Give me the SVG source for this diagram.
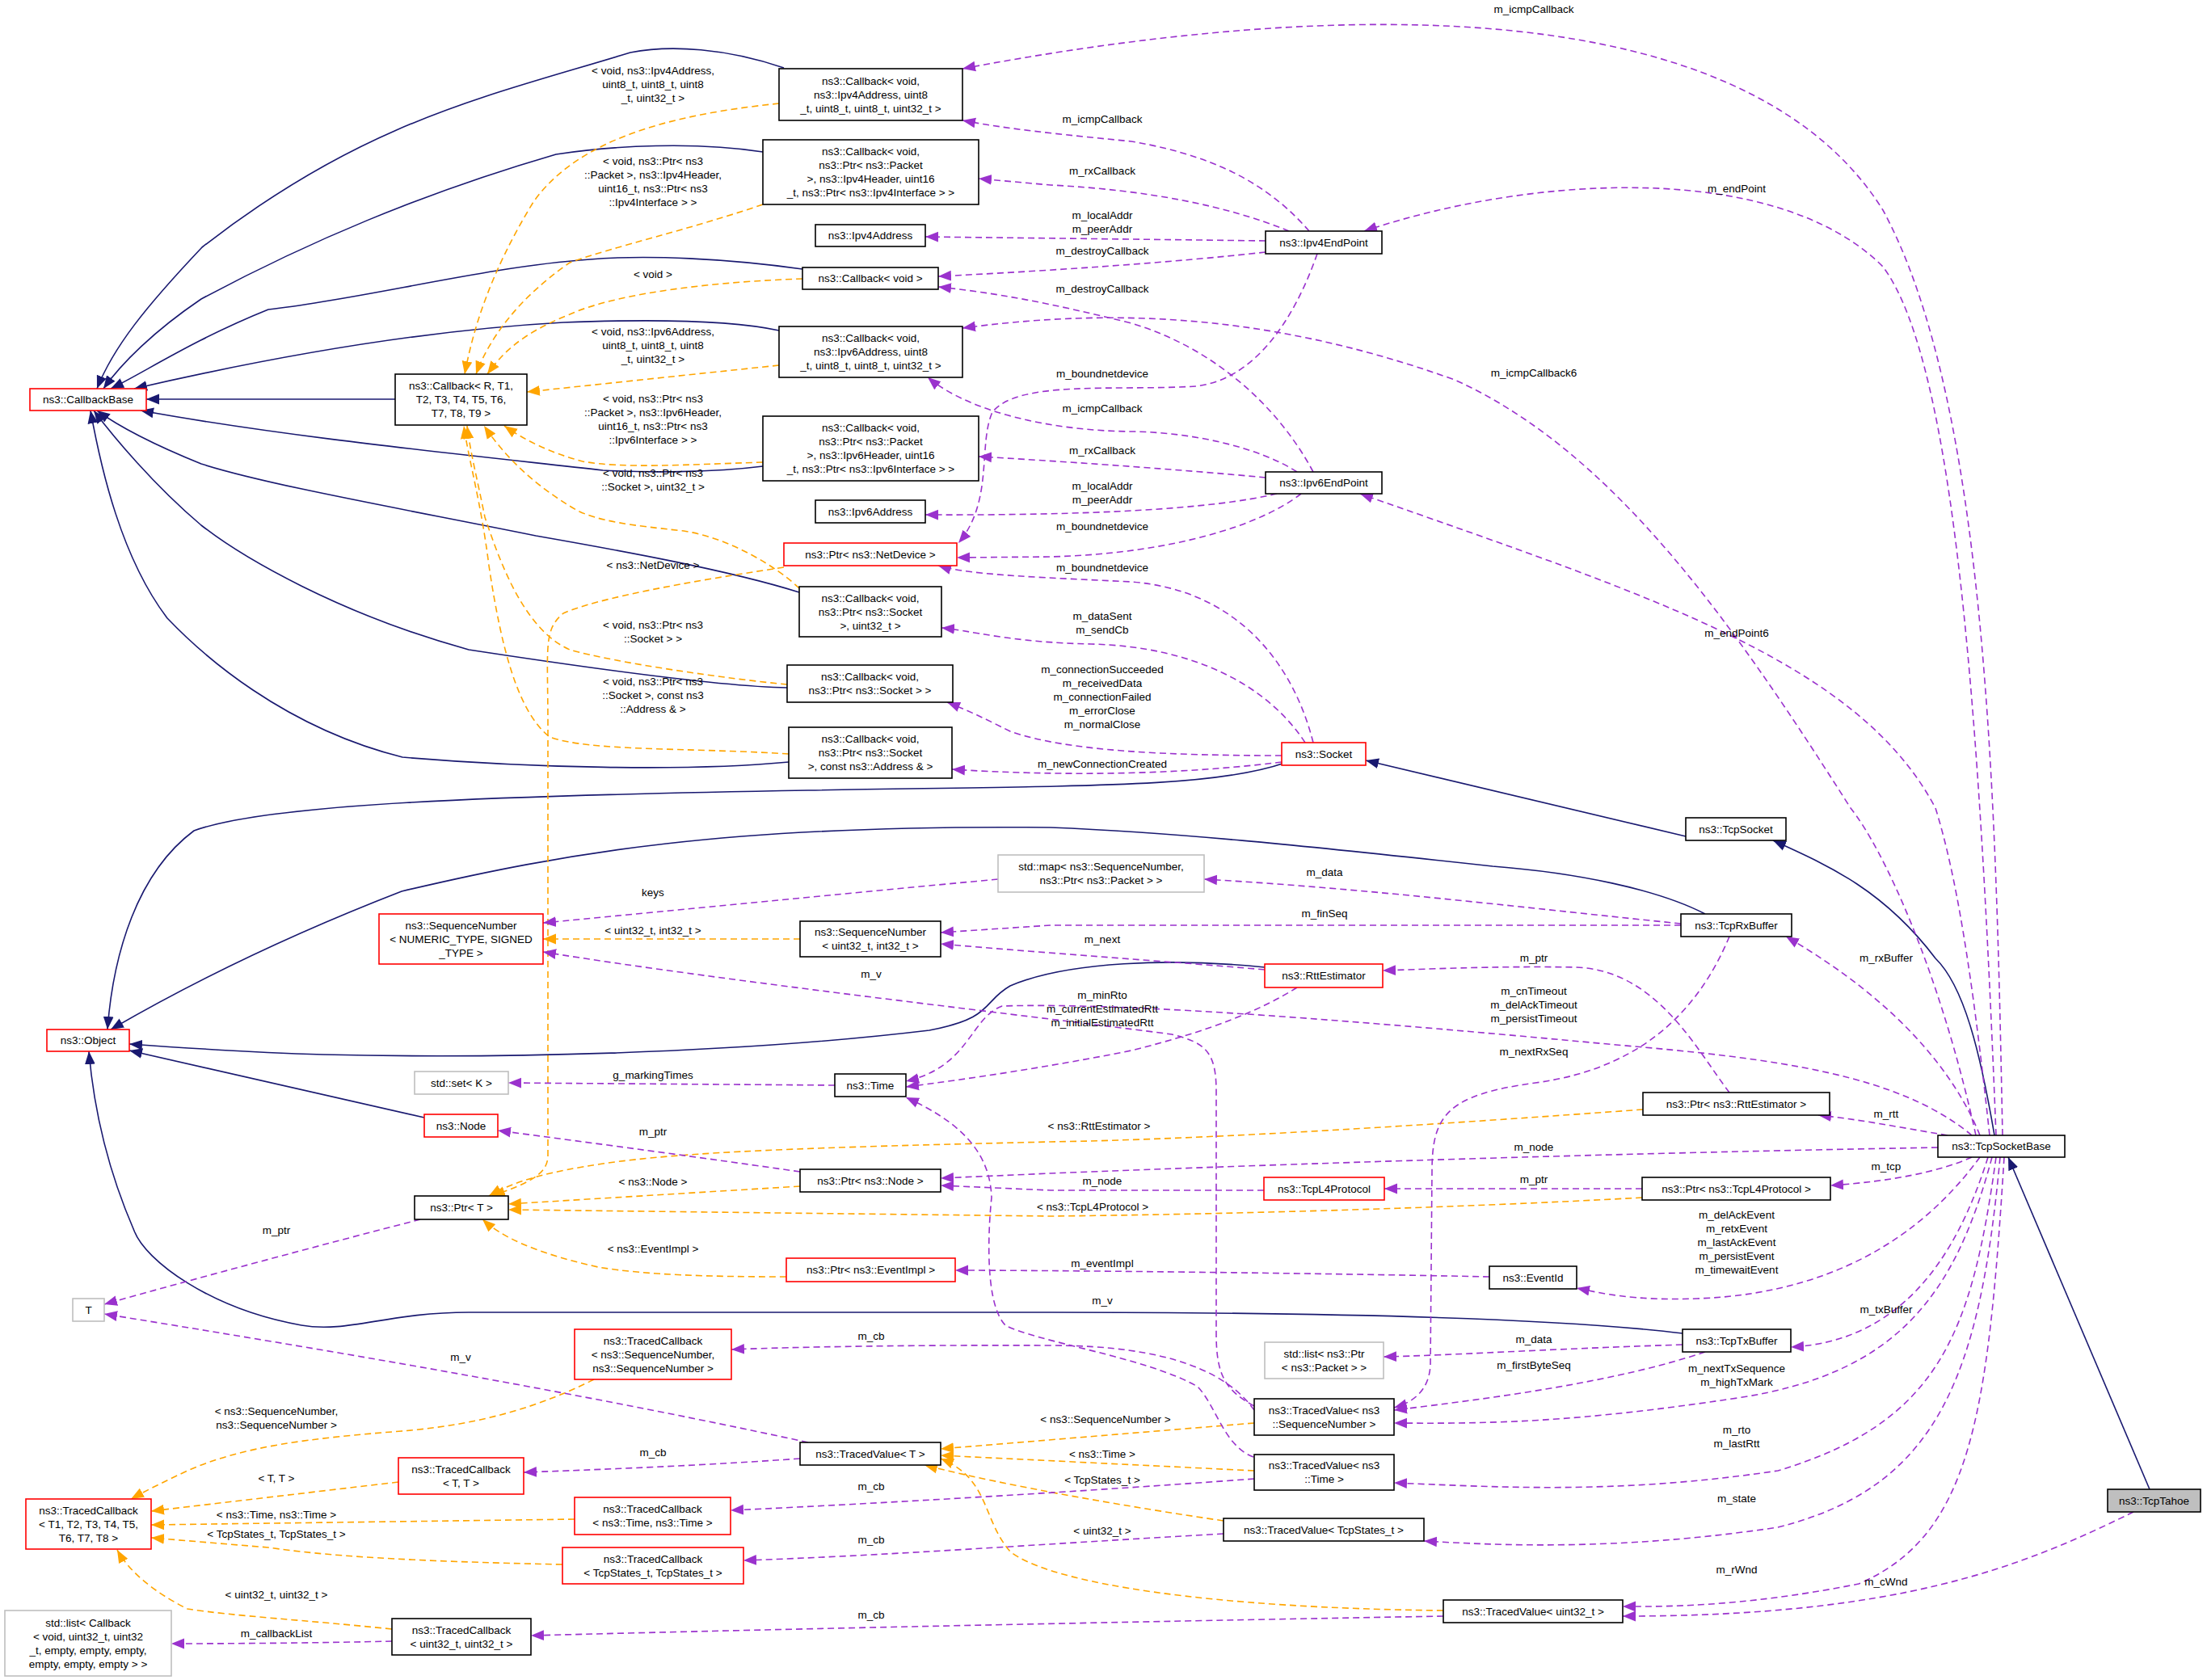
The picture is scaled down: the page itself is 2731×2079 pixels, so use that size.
<svg xmlns="http://www.w3.org/2000/svg" width="2731" height="2079" viewBox="0 0 2731 2079">
<style>
text{font-family:"Liberation Sans",Arial,sans-serif;font-size:13.5px;fill:#000;text-anchor:middle}
.n rect{fill:#fff;stroke:#000;stroke-width:1.6}
.n.r rect{stroke:#f00}
.n.g rect{stroke:#bfbfbf}
.n.t rect{fill:#bfbfbf;stroke:#000}
.e path{fill:none;stroke-width:1.6}
.i{stroke:#191970}
.p{stroke:#9a32cd;stroke-dasharray:8,5}
.o{stroke:#ffa500;stroke-dasharray:8,5}
</style>
<defs>
<marker id="ai" viewBox="0 0 10 10" refX="10" refY="5" markerWidth="16" markerHeight="16" markerUnits="userSpaceOnUse" orient="auto"><path d="M0,1L10,5L0,9z" fill="#191970"/></marker>
<marker id="ap" viewBox="0 0 10 10" refX="10" refY="5" markerWidth="16" markerHeight="16" markerUnits="userSpaceOnUse" orient="auto"><path d="M0,1L10,5L0,9z" fill="#9a32cd"/></marker>
<marker id="ao" viewBox="0 0 10 10" refX="10" refY="5" markerWidth="16" markerHeight="16" markerUnits="userSpaceOnUse" orient="auto"><path d="M0,1L10,5L0,9z" fill="#ffa500"/></marker>
</defs>
<rect width="2731" height="2079" fill="#fff"/>
<g id="edges" class="e">
<!-- inheritance -->
<path class="i" marker-end="url(#ai)" d="M970,84 C900,60 830,55 780,65 C600,120 450,150 250,306 C180,380 140,430 120,481"/>
<path class="i" marker-end="url(#ai)" d="M944,188 C860,175 760,180 688,191 C520,240 380,300 249,370 C190,410 150,450 128,481"/>
<path class="i" marker-end="url(#ai)" d="M993,333 C900,320 800,315 730,321 C600,330 450,370 332,383 C240,420 180,460 137,481"/>
<path class="i" marker-end="url(#ai)" d="M964,409 C900,395 800,395 697,399 C500,410 300,450 166,481"/>
<path class="i" marker-end="url(#ai)" d="M489,494 L181,494"/>
<path class="i" marker-end="url(#ai)" d="M944,577 C880,585 800,585 746,582 C550,560 350,540 174,508"/>
<path class="i" marker-end="url(#ai)" d="M989,733 C900,705 760,680 663,663 C500,630 330,600 249,574 C190,550 150,530 120,508"/>
<path class="i" marker-end="url(#ai)" d="M974,851 C900,850 750,830 580,804 C420,760 300,690 249,650 C190,600 140,540 116,508"/>
<path class="i" marker-end="url(#ai)" d="M976,943 C850,955 650,950 498,937 C350,900 250,810 207,765 C150,690 125,580 112,508"/>
<path class="i" marker-end="url(#ai)" d="M1590,944 C1500,975 1350,972 1000,978 C600,985 330,995 240,1028 C170,1080 140,1180 133,1274"/>
<path class="i" marker-end="url(#ai)" d="M2110,1131 C2050,1100 1950,1080 1847,1072 C1600,1045 1450,1030 1300,1024 C900,1020 700,1055 497,1103 C350,1160 230,1220 137,1274"/>
<path class="i" marker-end="url(#ai)" d="M1565,1197 C1450,1185 1320,1190 1250,1220 C1215,1240 1230,1260 1150,1275 C900,1305 600,1310 400,1305 C300,1302 230,1297 160,1292"/>
<path class="i" marker-end="url(#ai)" d="M525,1383 L160,1300"/>
<path class="i" marker-end="url(#ai)" d="M2082,1650 C2000,1640 1800,1624 1300,1624 L580,1624 C480,1624 430,1650 373,1640 C260,1620 180,1560 166,1523 C130,1440 115,1360 110,1301"/>
<path class="i" marker-end="url(#ai)" d="M2086,1035 L1690,941"/>
<path class="i" marker-end="url(#ai)" d="M2468,1405 C2450,1300 2430,1220 2395,1186 C2330,1100 2260,1070 2194,1040"/>
<path class="i" marker-end="url(#ai)" d="M2660,1843 L2485,1432"/>
<!-- template (orange) -->
<path class="o" marker-end="url(#ao)" d="M964,128 C850,140 720,165 660,250 C605,340 585,410 575,463"/>
<path class="o" marker-end="url(#ao)" d="M944,253 C850,285 760,305 705,325 C640,370 605,420 589,463"/>
<path class="o" marker-end="url(#ao)" d="M993,345 C900,348 770,360 705,389 C640,415 620,440 603,463"/>
<path class="o" marker-end="url(#ao)" d="M964,452 L652,485"/>
<path class="o" marker-end="url(#ao)" d="M944,572 C850,575 770,580 721,571 C680,560 650,545 624,527"/>
<path class="o" marker-end="url(#ao)" d="M989,728 C960,700 900,665 846,657 C780,650 740,645 713,631 C660,600 625,565 599,527"/>
<path class="o" marker-end="url(#ao)" d="M974,847 C900,840 760,820 705,804 C650,780 620,700 600,640 C590,590 582,560 578,527"/>
<path class="o" marker-end="url(#ao)" d="M976,933 C850,925 730,930 680,912 C640,880 620,800 605,700 C595,620 580,570 574,527"/>
<path class="o" marker-end="url(#ao)" d="M970,702 C850,720 740,740 697,759 C672,780 678,800 678,900 L678,1430 C678,1455 650,1465 609,1480"/>
<path class="o" marker-end="url(#ao)" d="M990,1162 L672,1162"/>
<path class="o" marker-end="url(#ao)" d="M2033,1373 C1800,1390 1500,1410 1300,1413 C1000,1420 850,1425 746,1440 C680,1450 640,1460 605,1480"/>
<path class="o" marker-end="url(#ao)" d="M990,1468 L629,1490"/>
<path class="o" marker-end="url(#ao)" d="M2032,1482 C1800,1495 1500,1503 1300,1505 L629,1497"/>
<path class="o" marker-end="url(#ao)" d="M973,1580 C880,1580 800,1578 740,1568 C660,1550 620,1530 597,1509"/>
<path class="o" marker-end="url(#ao)" d="M735,1707 C650,1750 570,1765 497,1771 C380,1780 300,1790 232,1820 C200,1835 180,1845 162,1855"/>
<path class="o" marker-end="url(#ao)" d="M493,1834 L187,1870"/>
<path class="o" marker-end="url(#ao)" d="M711,1880 L187,1887"/>
<path class="o" marker-end="url(#ao)" d="M696,1936 C500,1932 400,1925 332,1915 L187,1903"/>
<path class="o" marker-end="url(#ao)" d="M485,2016 C380,2005 290,2000 232,1991 C190,1970 160,1945 145,1918"/>
<path class="o" marker-end="url(#ao)" d="M1552,1761 L1164,1793"/>
<path class="o" marker-end="url(#ao)" d="M1552,1820 L1164,1801"/>
<path class="o" marker-end="url(#ao)" d="M1514,1882 C1400,1865 1250,1840 1144,1813"/>
<path class="o" marker-end="url(#ao)" d="M1786,1993 C1500,1990 1300,1960 1250,1920 C1215,1880 1225,1830 1164,1805"/>
<!-- members (purple) -->
<path class="p" marker-end="url(#ap)" d="M2478,1405 C2470,1000 2460,500 2330,260 C2180,20 1750,-20 1191,85"/>
<path class="p" marker-end="url(#ap)" d="M2470,1405 C2450,900 2420,450 2330,330 C2200,200 1900,215 1688,286"/>
<path class="p" marker-end="url(#ap)" d="M2445,1405 C2400,1200 2330,1050 2290,1000 C2150,780 2000,560 1800,470 C1550,380 1350,385 1191,406"/>
<path class="p" marker-end="url(#ap)" d="M2462,1405 C2440,1200 2420,1080 2395,1000 C2300,820 2050,740 1683,611"/>
<path class="p" marker-end="url(#ap)" d="M1620,286 C1580,240 1520,195 1400,175 C1300,165 1250,160 1191,149"/>
<path class="p" marker-end="url(#ap)" d="M1595,286 C1520,255 1420,235 1300,229 L1211,221"/>
<path class="p" marker-end="url(#ap)" d="M1566,298 L1145,293"/>
<path class="p" marker-end="url(#ap)" d="M1566,312 C1450,325 1300,335 1161,342"/>
<path class="p" marker-end="url(#ap)" d="M1625,584 C1580,500 1500,430 1400,400 C1300,375 1230,362 1161,355"/>
<path class="p" marker-end="url(#ap)" d="M1630,314 C1600,400 1550,470 1480,478 C1380,484 1260,470 1228,510 C1210,550 1230,620 1186,672"/>
<path class="p" marker-end="url(#ap)" d="M1605,584 C1560,555 1480,535 1400,534 C1300,533 1200,510 1148,467"/>
<path class="p" marker-end="url(#ap)" d="M1566,591 C1450,580 1300,570 1211,565"/>
<path class="p" marker-end="url(#ap)" d="M1580,611 C1500,630 1350,638 1145,637"/>
<path class="p" marker-end="url(#ap)" d="M1610,611 C1560,650 1450,685 1300,689 L1184,690"/>
<path class="p" marker-end="url(#ap)" d="M1625,919 C1600,820 1530,730 1400,720 C1300,715 1200,712 1161,700"/>
<path class="p" marker-end="url(#ap)" d="M1615,919 C1570,850 1480,800 1350,797 C1250,795 1200,780 1165,777"/>
<path class="p" marker-end="url(#ap)" d="M1586,935 C1450,935 1320,930 1250,905 C1220,890 1200,880 1172,869"/>
<path class="p" marker-end="url(#ap)" d="M1586,943 C1450,960 1300,960 1178,952"/>
<path class="p" marker-end="url(#ap)" d="M2080,1143 C1900,1125 1700,1100 1490,1088"/>
<path class="p" marker-end="url(#ap)" d="M1235,1088 C1000,1110 800,1130 672,1142"/>
<path class="p" marker-end="url(#ap)" d="M2080,1145 L1300,1145 L1164,1154"/>
<path class="p" marker-end="url(#ap)" d="M1565,1200 C1450,1190 1300,1180 1164,1168"/>
<path class="p" marker-end="url(#ap)" d="M1552,1740 C1515,1720 1505,1700 1505,1650 L1505,1350 C1505,1300 1490,1290 1450,1280 C1300,1260 900,1215 672,1178"/>
<path class="p" marker-end="url(#ap)" d="M1605,1222 C1560,1250 1500,1275 1400,1300 C1300,1320 1200,1335 1121,1345"/>
<path class="p" marker-end="url(#ap)" d="M2440,1405 C2350,1330 2200,1310 2000,1293 C1700,1265 1400,1240 1240,1245 C1200,1260 1200,1320 1121,1338"/>
<path class="p" marker-end="url(#ap)" d="M1033,1343 L629,1340"/>
<path class="p" marker-end="url(#ap)" d="M990,1450 C850,1430 700,1410 616,1399"/>
<path class="p" marker-end="url(#ap)" d="M520,1509 C400,1540 250,1580 129,1614"/>
<path class="p" marker-end="url(#ap)" d="M1000,1785 C700,1720 400,1670 129,1626"/>
<path class="p" marker-end="url(#ap)" d="M2398,1420 C2000,1427 1600,1440 1300,1452 L1164,1458"/>
<path class="p" marker-end="url(#ap)" d="M1564,1473 L1300,1473 L1164,1467"/>
<path class="p" marker-end="url(#ap)" d="M2032,1471 L1713,1471"/>
<path class="p" marker-end="url(#ap)" d="M2140,1352 C2100,1300 2050,1200 1950,1197 C1850,1195 1750,1200 1711,1201"/>
<path class="p" marker-end="url(#ap)" d="M2410,1405 C2350,1395 2300,1385 2250,1380"/>
<path class="p" marker-end="url(#ap)" d="M2440,1432 C2400,1450 2340,1462 2265,1467"/>
<path class="p" marker-end="url(#ap)" d="M2450,1405 C2420,1330 2350,1240 2210,1159"/>
<path class="p" marker-end="url(#ap)" d="M2450,1432 C2400,1500 2300,1600 2100,1607 C2020,1610 1980,1600 1951,1594"/>
<path class="p" marker-end="url(#ap)" d="M1843,1580 C1600,1575 1300,1572 1182,1572"/>
<path class="p" marker-end="url(#ap)" d="M2140,1159 C2110,1230 2050,1320 1900,1340 C1790,1355 1772,1380 1772,1450 L1770,1690 C1768,1720 1750,1735 1725,1742"/>
<path class="p" marker-end="url(#ap)" d="M2082,1664 C1900,1670 1800,1677 1712,1679"/>
<path class="p" marker-end="url(#ap)" d="M2110,1673 C2000,1710 1850,1730 1725,1745"/>
<path class="p" marker-end="url(#ap)" d="M2465,1432 C2420,1600 2350,1700 2150,1730 C1950,1760 1850,1762 1725,1761"/>
<path class="p" marker-end="url(#ap)" d="M2460,1432 C2420,1560 2350,1660 2216,1667"/>
<path class="p" marker-end="url(#ap)" d="M2470,1432 C2440,1650 2400,1760 2200,1820 C2000,1850 1850,1840 1725,1835"/>
<path class="p" marker-end="url(#ap)" d="M2475,1432 C2450,1700 2400,1840 2200,1890 C2000,1920 1850,1912 1762,1907"/>
<path class="p" marker-end="url(#ap)" d="M2480,1432 C2460,1750 2440,1900 2300,1960 C2150,1990 2050,1988 2008,1988"/>
<path class="p" marker-end="url(#ap)" d="M2640,1871 C2500,1940 2350,2000 2008,2000"/>
<path class="p" marker-end="url(#ap)" d="M1552,1745 C1520,1700 1450,1665 1300,1665 C1100,1664 950,1668 905,1670"/>
<path class="p" marker-end="url(#ap)" d="M990,1805 C850,1815 700,1820 648,1822"/>
<path class="p" marker-end="url(#ap)" d="M1552,1830 C1350,1845 1100,1860 904,1869"/>
<path class="p" marker-end="url(#ap)" d="M1514,1898 C1300,1910 1100,1925 920,1931"/>
<path class="p" marker-end="url(#ap)" d="M1786,2000 C1500,2005 1000,2015 657,2024"/>
<path class="p" marker-end="url(#ap)" d="M485,2031 C400,2033 300,2034 212,2034"/>
<path class="p" marker-end="url(#ap)" d="M1551,1803 C1515,1790 1505,1740 1482,1716 C1420,1680 1280,1660 1244,1640 C1215,1610 1225,1500 1227,1482 C1225,1420 1180,1385 1121,1358"/>
</g>
<g id="edge-labels">
<text x="808" y="92">&lt; void, ns3::Ipv4Address,</text><text x="808" y="109">uint8_t, uint8_t, uint8</text><text x="808" y="126">_t, uint32_t &gt;</text>
<text x="808" y="204">&lt; void, ns3::Ptr&lt; ns3</text><text x="808" y="221">::Packet &gt;, ns3::Ipv4Header,</text><text x="808" y="238">uint16_t, ns3::Ptr&lt; ns3</text><text x="808" y="255">::Ipv4Interface &gt; &gt;</text>
<text x="808" y="344">&lt; void &gt;</text>
<text x="808" y="415">&lt; void, ns3::Ipv6Address,</text><text x="808" y="432">uint8_t, uint8_t, uint8</text><text x="808" y="449">_t, uint32_t &gt;</text>
<text x="808" y="498">&lt; void, ns3::Ptr&lt; ns3</text><text x="808" y="515">::Packet &gt;, ns3::Ipv6Header,</text><text x="808" y="532">uint16_t, ns3::Ptr&lt; ns3</text><text x="808" y="549">::Ipv6Interface &gt; &gt;</text>
<text x="808" y="590">&lt; void, ns3::Ptr&lt; ns3</text><text x="808" y="607">::Socket &gt;, uint32_t &gt;</text>
<text x="808" y="704">&lt; ns3::NetDevice &gt;</text>
<text x="808" y="778">&lt; void, ns3::Ptr&lt; ns3</text><text x="808" y="795">::Socket &gt; &gt;</text>
<text x="808" y="848">&lt; void, ns3::Ptr&lt; ns3</text><text x="808" y="865">::Socket &gt;, const ns3</text><text x="808" y="882">::Address &amp; &gt;</text>
<text x="1898" y="16">m_icmpCallback</text>
<text x="2149" y="238">m_endPoint</text>
<text x="1898" y="466">m_icmpCallback6</text>
<text x="2149" y="788">m_endPoint6</text>
<text x="1364" y="152">m_icmpCallback</text>
<text x="1364" y="216">m_rxCallback</text>
<text x="1364" y="271">m_localAddr</text><text x="1364" y="288">m_peerAddr</text>
<text x="1364" y="315">m_destroyCallback</text>
<text x="1364" y="362">m_destroyCallback</text>
<text x="1364" y="467">m_boundnetdevice</text>
<text x="1364" y="510">m_icmpCallback</text>
<text x="1364" y="562">m_rxCallback</text>
<text x="1364" y="606">m_localAddr</text><text x="1364" y="623">m_peerAddr</text>
<text x="1364" y="656">m_boundnetdevice</text>
<text x="1364" y="707">m_boundnetdevice</text>
<text x="1364" y="767">m_dataSent</text><text x="1364" y="784">m_sendCb</text>
<text x="1364" y="833">m_connectionSucceeded</text><text x="1364" y="850">m_receivedData</text><text x="1364" y="867">m_connectionFailed</text><text x="1364" y="884">m_errorClose</text><text x="1364" y="901">m_normalClose</text>
<text x="1364" y="950">m_newConnectionCreated</text>
<text x="1639" y="1084">m_data</text>
<text x="808" y="1109">keys</text>
<text x="1639" y="1135">m_finSeq</text>
<text x="808" y="1156">&lt; uint32_t, int32_t &gt;</text>
<text x="1364" y="1167">m_next</text>
<text x="1898" y="1190">m_ptr</text>
<text x="2334" y="1190">m_rxBuffer</text>
<text x="1078" y="1210">m_v</text>
<text x="1898" y="1231">m_cnTimeout</text><text x="1898" y="1248">m_delAckTimeout</text><text x="1898" y="1265">m_persistTimeout</text>
<text x="1364" y="1236">m_minRto</text><text x="1364" y="1253">m_currentEstimatedRtt</text><text x="1364" y="1270">m_initialEstimatedRtt</text>
<text x="1898" y="1306">m_nextRxSeq</text>
<text x="808" y="1335">g_markingTimes</text>
<text x="2334" y="1383">m_rtt</text>
<text x="1360" y="1398">&lt; ns3::RttEstimator &gt;</text>
<text x="808" y="1405">m_ptr</text>
<text x="1898" y="1424">m_node</text>
<text x="2334" y="1448">m_tcp</text>
<text x="1898" y="1464">m_ptr</text>
<text x="1364" y="1466">m_node</text>
<text x="808" y="1467">&lt; ns3::Node &gt;</text>
<text x="1352" y="1498">&lt; ns3::TcpL4Protocol &gt;</text>
<text x="2149" y="1508">m_delAckEvent</text><text x="2149" y="1525">m_retxEvent</text><text x="2149" y="1542">m_lastAckEvent</text><text x="2149" y="1559">m_persistEvent</text><text x="2149" y="1576">m_timewaitEvent</text>
<text x="342" y="1527">m_ptr</text>
<text x="808" y="1550">&lt; ns3::EventImpl &gt;</text>
<text x="1364" y="1568">m_eventImpl</text>
<text x="1364" y="1614">m_v</text>
<text x="2334" y="1625">m_txBuffer</text>
<text x="1078" y="1658">m_cb</text>
<text x="1898" y="1662">m_data</text>
<text x="570" y="1684">m_v</text>
<text x="1898" y="1694">m_firstByteSeq</text>
<text x="2149" y="1698">m_nextTxSequence</text><text x="2149" y="1715">m_highTxMark</text>
<text x="342" y="1751">&lt; ns3::SequenceNumber,</text><text x="342" y="1768">ns3::SequenceNumber &gt;</text>
<text x="1368" y="1761">&lt; ns3::SequenceNumber &gt;</text>
<text x="2149" y="1774">m_rto</text><text x="2149" y="1791">m_lastRtt</text>
<text x="808" y="1802">m_cb</text>
<text x="1364" y="1804">&lt; ns3::Time &gt;</text>
<text x="342" y="1834">&lt; T, T &gt;</text>
<text x="1364" y="1836">&lt; TcpStates_t &gt;</text>
<text x="1078" y="1844">m_cb</text>
<text x="2149" y="1859">m_state</text>
<text x="342" y="1879">&lt; ns3::Time, ns3::Time &gt;</text>
<text x="1364" y="1899">&lt; uint32_t &gt;</text>
<text x="342" y="1903">&lt; TcpStates_t, TcpStates_t &gt;</text>
<text x="1078" y="1910">m_cb</text>
<text x="2149" y="1947">m_rWnd</text>
<text x="2334" y="1962">m_cWnd</text>
<text x="342" y="1978">&lt; uint32_t, uint32_t &gt;</text>
<text x="1078" y="2003">m_cb</text>
<text x="342" y="2026">m_callbackList</text>
</g>
<g id="CallbackBase" class="n r"><rect x="37" y="481" width="144" height="27"/><text x="109" y="499">ns3::CallbackBase</text></g>
<g id="CallbackRT" class="n"><rect x="489" y="463" width="163" height="63"/><text x="570.5" y="482">ns3::Callback&lt; R, T1,</text><text x="570.5" y="499">T2, T3, T4, T5, T6,</text><text x="570.5" y="516">T7, T8, T9 &gt;</text></g>
<g id="CbIpv4Icmp" class="n"><rect x="964" y="85" width="227" height="64"/><text x="1077.5" y="105">ns3::Callback&lt; void,</text><text x="1077.5" y="122">ns3::Ipv4Address, uint8</text><text x="1077.5" y="139">_t, uint8_t, uint8_t, uint32_t &gt;</text></g>
<g id="CbIpv4Rx" class="n"><rect x="944" y="173" width="267" height="80"/><text x="1077.5" y="192">ns3::Callback&lt; void,</text><text x="1077.5" y="209">ns3::Ptr&lt; ns3::Packet</text><text x="1077.5" y="226">&gt;, ns3::Ipv4Header, uint16</text><text x="1077.5" y="243">_t, ns3::Ptr&lt; ns3::Ipv4Interface &gt; &gt;</text></g>
<g id="Ipv4Address" class="n"><rect x="1009" y="278" width="136" height="27"/><text x="1077" y="296">ns3::Ipv4Address</text></g>
<g id="CbVoid" class="n"><rect x="993" y="331" width="168" height="27"/><text x="1077" y="349">ns3::Callback&lt; void &gt;</text></g>
<g id="CbIpv6Icmp" class="n"><rect x="964" y="404" width="227" height="63"/><text x="1077.5" y="423">ns3::Callback&lt; void,</text><text x="1077.5" y="440">ns3::Ipv6Address, uint8</text><text x="1077.5" y="457">_t, uint8_t, uint8_t, uint32_t &gt;</text></g>
<g id="CbIpv6Rx" class="n"><rect x="944" y="515" width="267" height="80"/><text x="1077.5" y="534">ns3::Callback&lt; void,</text><text x="1077.5" y="551">ns3::Ptr&lt; ns3::Packet</text><text x="1077.5" y="568">&gt;, ns3::Ipv6Header, uint16</text><text x="1077.5" y="585">_t, ns3::Ptr&lt; ns3::Ipv6Interface &gt; &gt;</text></g>
<g id="Ipv6Address" class="n"><rect x="1009" y="619" width="136" height="28"/><text x="1077" y="638">ns3::Ipv6Address</text></g>
<g id="PtrNetDevice" class="n r"><rect x="970" y="672" width="214" height="28"/><text x="1077" y="691">ns3::Ptr&lt; ns3::NetDevice &gt;</text></g>
<g id="CbSocketU32" class="n"><rect x="989" y="726" width="176" height="62"/><text x="1077" y="745">ns3::Callback&lt; void,</text><text x="1077" y="762">ns3::Ptr&lt; ns3::Socket</text><text x="1077" y="779">&gt;, uint32_t &gt;</text></g>
<g id="CbSocket" class="n"><rect x="974" y="823" width="205" height="46"/><text x="1076.5" y="842">ns3::Callback&lt; void,</text><text x="1076.5" y="859">ns3::Ptr&lt; ns3::Socket &gt; &gt;</text></g>
<g id="CbSocketAddr" class="n"><rect x="976" y="900" width="202" height="63"/><text x="1077" y="919">ns3::Callback&lt; void,</text><text x="1077" y="936">ns3::Ptr&lt; ns3::Socket</text><text x="1077" y="953">&gt;, const ns3::Address &amp; &gt;</text></g>
<g id="Ipv4EndPoint" class="n"><rect x="1566" y="286" width="144" height="28"/><text x="1638" y="305">ns3::Ipv4EndPoint</text></g>
<g id="Ipv6EndPoint" class="n"><rect x="1566" y="584" width="144" height="27"/><text x="1638" y="602">ns3::Ipv6EndPoint</text></g>
<g id="Socket" class="n r"><rect x="1586" y="919" width="104" height="28"/><text x="1638" y="938">ns3::Socket</text></g>
<g id="TcpSocket" class="n"><rect x="2086" y="1012" width="124" height="28"/><text x="2148" y="1031">ns3::TcpSocket</text></g>
<g id="StdMap" class="n g"><rect x="1235" y="1058" width="255" height="46"/><text x="1362.5" y="1077">std::map&lt; ns3::SequenceNumber,</text><text x="1362.5" y="1094">ns3::Ptr&lt; ns3::Packet &gt; &gt;</text></g>
<g id="TcpRxBuffer" class="n"><rect x="2080" y="1131" width="137" height="28"/><text x="2148.5" y="1150">ns3::TcpRxBuffer</text></g>
<g id="SeqNumGeneric" class="n r"><rect x="469" y="1131" width="203" height="62"/><text x="570.5" y="1150">ns3::SequenceNumber</text><text x="570.5" y="1167">&lt; NUMERIC_TYPE, SIGNED</text><text x="570.5" y="1184">_TYPE &gt;</text></g>
<g id="SeqNumU32" class="n"><rect x="990" y="1140" width="174" height="44"/><text x="1077" y="1158">ns3::SequenceNumber</text><text x="1077" y="1175">&lt; uint32_t, int32_t &gt;</text></g>
<g id="RttEstimator" class="n r"><rect x="1565" y="1193" width="146" height="29"/><text x="1638" y="1212">ns3::RttEstimator</text></g>
<g id="Object" class="n r"><rect x="58" y="1274" width="102" height="27"/><text x="109" y="1292">ns3::Object</text></g>
<g id="StdSetK" class="n g"><rect x="513" y="1326" width="116" height="28"/><text x="571" y="1345">std::set&lt; K &gt;</text></g>
<g id="Time" class="n"><rect x="1033" y="1329" width="88" height="28"/><text x="1077" y="1348">ns3::Time</text></g>
<g id="PtrRttEstimator" class="n"><rect x="2033" y="1352" width="231" height="28"/><text x="2148.5" y="1371">ns3::Ptr&lt; ns3::RttEstimator &gt;</text></g>
<g id="Node" class="n r"><rect x="525" y="1379" width="91" height="28"/><text x="570.5" y="1398">ns3::Node</text></g>
<g id="TcpSocketBase" class="n"><rect x="2398" y="1405" width="157" height="27"/><text x="2476.5" y="1423">ns3::TcpSocketBase</text></g>
<g id="PtrNode" class="n"><rect x="990" y="1447" width="174" height="28"/><text x="1077" y="1466">ns3::Ptr&lt; ns3::Node &gt;</text></g>
<g id="TcpL4Protocol" class="n r"><rect x="1564" y="1457" width="149" height="28"/><text x="1638.5" y="1476">ns3::TcpL4Protocol</text></g>
<g id="PtrTcpL4Protocol" class="n"><rect x="2032" y="1457" width="233" height="28"/><text x="2148.5" y="1476">ns3::Ptr&lt; ns3::TcpL4Protocol &gt;</text></g>
<g id="PtrT" class="n"><rect x="513" y="1480" width="116" height="29"/><text x="571" y="1499">ns3::Ptr&lt; T &gt;</text></g>
<g id="EventId" class="n"><rect x="1843" y="1567" width="108" height="28"/><text x="1897" y="1586">ns3::EventId</text></g>
<g id="PtrEventImpl" class="n r"><rect x="973" y="1557" width="209" height="29"/><text x="1077.5" y="1576">ns3::Ptr&lt; ns3::EventImpl &gt;</text></g>
<g id="T" class="n g"><rect x="90" y="1607" width="39" height="28"/><text x="109.5" y="1626">T</text></g>
<g id="TcpTxBuffer" class="n"><rect x="2082" y="1645" width="134" height="28"/><text x="2149" y="1664">ns3::TcpTxBuffer</text></g>
<g id="TCSeqNum" class="n r"><rect x="711" y="1645" width="194" height="62"/><text x="808" y="1664">ns3::TracedCallback</text><text x="808" y="1681">&lt; ns3::SequenceNumber,</text><text x="808" y="1698">ns3::SequenceNumber &gt;</text></g>
<g id="StdListPacket" class="n g"><rect x="1565" y="1661" width="147" height="45"/><text x="1638.5" y="1680">std::list&lt; ns3::Ptr</text><text x="1638.5" y="1697">&lt; ns3::Packet &gt; &gt;</text></g>
<g id="TVSeqNum" class="n"><rect x="1552" y="1731" width="173" height="45"/><text x="1638.5" y="1750">ns3::TracedValue&lt; ns3</text><text x="1638.5" y="1767">::SequenceNumber &gt;</text></g>
<g id="TVT" class="n"><rect x="990" y="1785" width="174" height="28"/><text x="1077" y="1804">ns3::TracedValue&lt; T &gt;</text></g>
<g id="TVTime" class="n"><rect x="1552" y="1800" width="173" height="44"/><text x="1638.5" y="1818">ns3::TracedValue&lt; ns3</text><text x="1638.5" y="1835">::Time &gt;</text></g>
<g id="TCTT" class="n r"><rect x="493" y="1804" width="155" height="45"/><text x="570.5" y="1823">ns3::TracedCallback</text><text x="570.5" y="1840">&lt; T, T &gt;</text></g>
<g id="TcpTahoe" class="n t"><rect x="2608" y="1843" width="115" height="28"/><text x="2665.5" y="1862">ns3::TcpTahoe</text></g>
<g id="TCAll" class="n r"><rect x="32" y="1855" width="155" height="62"/><text x="109.5" y="1874">ns3::TracedCallback</text><text x="109.5" y="1891">&lt; T1, T2, T3, T4, T5,</text><text x="109.5" y="1908">T6, T7, T8 &gt;</text></g>
<g id="TCTime" class="n r"><rect x="711" y="1853" width="193" height="46"/><text x="807.5" y="1872">ns3::TracedCallback</text><text x="807.5" y="1889">&lt; ns3::Time, ns3::Time &gt;</text></g>
<g id="TVTcpStates" class="n"><rect x="1514" y="1879" width="248" height="28"/><text x="1638" y="1898">ns3::TracedValue&lt; TcpStates_t &gt;</text></g>
<g id="TCTcpStates" class="n r"><rect x="696" y="1915" width="224" height="45"/><text x="808" y="1934">ns3::TracedCallback</text><text x="808" y="1951">&lt; TcpStates_t, TcpStates_t &gt;</text></g>
<g id="TVU32" class="n"><rect x="1786" y="1980" width="222" height="28"/><text x="1897" y="1999">ns3::TracedValue&lt; uint32_t &gt;</text></g>
<g id="StdListCallback" class="n g"><rect x="6" y="1993" width="206" height="81"/><text x="109" y="2013">std::list&lt; Callback</text><text x="109" y="2030">&lt; void, uint32_t, uint32</text><text x="109" y="2047">_t, empty, empty, empty,</text><text x="109" y="2064">empty, empty, empty &gt; &gt;</text></g>
<g id="TCU32" class="n"><rect x="485" y="2003" width="172" height="45"/><text x="571" y="2022">ns3::TracedCallback</text><text x="571" y="2039">&lt; uint32_t, uint32_t &gt;</text></g>
</svg>
